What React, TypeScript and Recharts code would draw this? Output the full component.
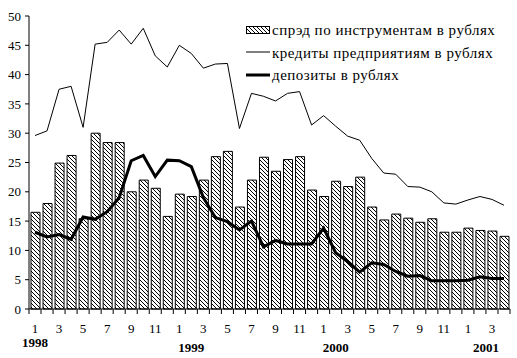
import { ComposedChart, Bar, Line, XAxis, YAxis } from 'recharts';

const months = [1, 2, 3, 4, 5, 6, 7, 8, 9, 10, 11, 12, 1, 2, 3, 4, 5, 6, 7, 8, 9, 10, 11, 12, 1, 2, 3, 4, 5, 6, 7, 8, 9, 10, 11, 12, 1, 2, 3, 4];
const years = [
  { index: 0, label: '1998' },
  { index: 13, label: '1999' },
  { index: 25, label: '2000' },
  { index: 37, label: '2001' },
];
const spread = [16.5, 18.0, 24.9, 26.2, 15.4, 30.0, 28.4, 28.4, 20.0, 22.0, 20.6, 15.8, 19.6, 19.2, 22.0, 26.0, 26.9, 17.4, 22.0, 25.9, 23.5, 25.5, 26.0, 20.3, 19.2, 21.8, 20.9, 22.5, 17.4, 15.2, 16.2, 15.5, 14.8, 15.4, 13.1, 13.1, 13.8, 13.4, 13.3, 12.4];
const credits = [29.6, 30.4, 37.5, 38.0, 31.0, 45.2, 45.5, 47.6, 45.2, 47.9, 43.2, 41.3, 45.0, 43.6, 41.1, 41.8, 41.9, 30.8, 36.8, 36.3, 35.5, 36.8, 37.1, 31.4, 33.0, 31.2, 29.5, 28.8, 25.7, 23.2, 23.0, 20.9, 20.8, 20.0, 18.1, 17.9, 18.6, 19.2, 18.7, 17.7];
const deposits = [13.1, 12.3, 12.7, 11.9, 15.7, 15.3, 16.6, 19.0, 25.3, 26.2, 22.6, 25.4, 25.3, 24.3, 19.0, 15.6, 14.9, 13.5, 15.0, 10.6, 11.7, 11.1, 11.1, 11.1, 13.8, 9.6, 8.1, 6.3, 7.9, 7.6, 6.4, 5.6, 5.7, 4.8, 4.8, 4.8, 4.9, 5.5, 5.2, 5.2];
const yTicks = [0, 5, 10, 15, 20, 25, 30, 35, 40, 45, 50];

const legendItems = ['спрэд по инструментам в рублях', 'кредиты предприятиям в рублях', 'депозиты в рублях'];

const data = months.map((m, i) => ({
  n: i,
  spread: spread[i],
  credits: credits[i],
  deposits: deposits[i],
}));

const FONT = "'Liberation Serif', 'Times New Roman', Times, serif";
const PLOT_LEFT = 29;
const PLOT_RIGHT = 510;
const BAND = (PLOT_RIGHT - PLOT_LEFT) / months.length;

// year label placement (visual only)
const yearPos: Record<string, { dx: number; y: number }> = {
  '1998': { dx: 0, y: 347 },
  '1999': { dx: 0, y: 352 },
  '2000': { dx: 0, y: 352 },
  '2001': { dx: BAND / 2, y: 352 },
};

const MonthTick = (props: any) => {
  const { x, y, payload } = props;
  const i = payload.value as number;
  const m = months[i];
  const yr = years.find((e) => e.index === i);
  return (
    <g>
      <line x1={x - BAND / 2} y1={y} x2={x - BAND / 2} y2={y + 5} stroke="#000" />
      {i === months.length - 1 && <line x1={x + BAND / 2} y1={y} x2={x + BAND / 2} y2={y + 5} stroke="#000" />}
      {m % 2 === 1 && (
        <text x={x} y={y + 24} textAnchor="middle" style={{ fontSize: 13, fontFamily: FONT }} fill="#000">
          {m}
        </text>
      )}
      {yr && (
        <text x={x + yearPos[yr.label].dx} y={yearPos[yr.label].y} textAnchor="middle" style={{ fontSize: 13, fontWeight: 'bold', fontFamily: FONT }} fill="#000">
          {yr.label}
        </text>
      )}
    </g>
  );
};

function LegendBox() {
  return (
    <svg width={280} height={90} style={{ position: 'absolute', left: 240, top: 10 }}>
      <defs>
        <pattern id="hatchL" patternUnits="userSpaceOnUse" width={4} height={4}>
          <path d="M0,0 L4,4 M-1,3 L1,5 M3,-1 L5,1" stroke="#000" strokeWidth={1} shapeRendering="crispEdges" />
        </pattern>
      </defs>
      <rect x={6.5} y={16.5} width={23} height={7} fill="url(#hatchL)" stroke="#000" />
      <line x1={6} y1={42} x2={30} y2={42} stroke="#000" strokeWidth={1} />
      <line x1={6} y1={65} x2={30} y2={65} stroke="#000" strokeWidth={3} />
      {legendItems.map((t, k) => (
        <text key={t} x={32} y={25 + k * 22.5} fill="#000" style={{ fontSize: 15, fontFamily: FONT, letterSpacing: 0.5 }}>
          {t}
        </text>
      ))}
    </svg>
  );
}

export default function App() {
  return (
    <div style={{ position: 'absolute', left: 0, top: 0, width: 517, height: 358, background: '#fff', fontFamily: FONT }}>
      <ComposedChart width={517} height={358} data={data} margin={{ top: 16, right: 7, bottom: 0, left: 0 }}>
        <defs>
          <pattern id="hatch" patternUnits="userSpaceOnUse" width={4} height={4}>
            <path d="M0,0 L4,4 M-1,3 L1,5 M3,-1 L5,1" stroke="#000" strokeWidth={1} shapeRendering="crispEdges" />
          </pattern>
        </defs>
        <XAxis
          dataKey="n"
          height={49}
          interval={0}
          tickLine={false}
          tickSize={0}
          tickMargin={0}
          tick={<MonthTick />}
          axisLine={{ stroke: '#000' }}
        />
        <YAxis
          width={29}
          domain={[0, 50]}
          ticks={yTicks}
          interval={0}
          tickSize={4}
          tickMargin={4}
          axisLine={{ stroke: '#000' }}
          tickLine={{ stroke: '#000' }}
          tick={{ fontSize: 13, fill: '#000', style: { fontFamily: FONT } }}
        />
        <Bar dataKey="spread" barSize={9} fill="url(#hatch)" stroke="#000" strokeWidth={1} isAnimationActive={false} />
        <Line dataKey="credits" type="linear" stroke="#000" strokeWidth={1} dot={false} isAnimationActive={false} />
        <Line dataKey="deposits" type="linear" stroke="#000" strokeWidth={3} dot={false} isAnimationActive={false} />
      </ComposedChart>
      <LegendBox />
    </div>
  );
}
